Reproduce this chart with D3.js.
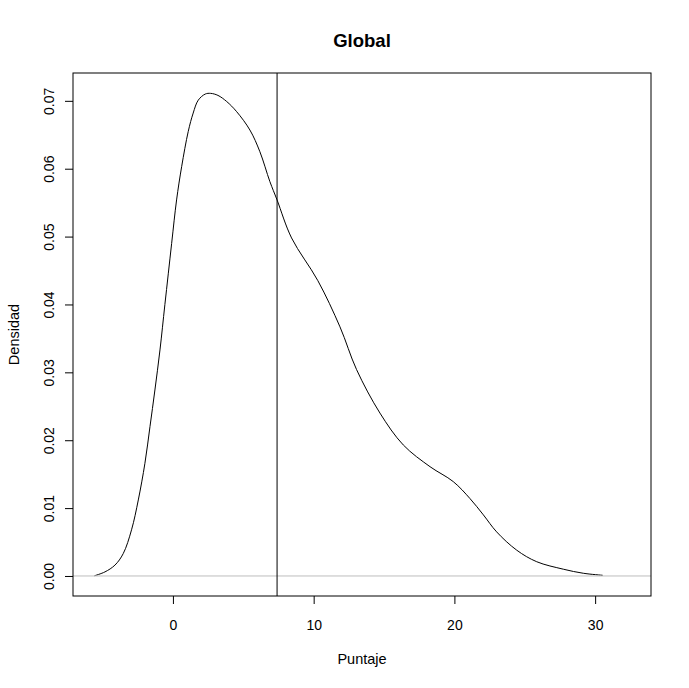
<!DOCTYPE html>
<html>
<head>
<meta charset="utf-8">
<script src="https://cdn.jsdelivr.net/npm/d3@7"></script>
<style>
  body { margin: 0; background: #fff; }
  svg { display: block; }
  text { font-family: "Liberation Sans", Arial, sans-serif; }
</style>
</head>
<body>
<svg id="chart" width="689" height="688"></svg>
<script>
// Density estimate (x = Puntaje, y = Densidad)
const puntaje = [-5.58, -4.83, -4.12, -3.53, -2.94, -2.46, -1.99, -1.63, -1.28, -0.92,
  -0.57, -0.09, 0.26, 0.62, 1.09, 1.44, 1.80, 2.30, 2.68, 3.20,
  3.82, 4.53, 5.47, 6.18, 6.89, 7.40, 8.43, 10.30, 11.87, 13.05,
  14.71, 16.37, 18.27, 19.92, 21.11, 22.06, 23.00, 24.43, 25.85, 27.74,
  29.16, 30.54];
const densidad = [0.00003, 0.0006, 0.0016, 0.0033, 0.0068, 0.0112, 0.0166, 0.0220, 0.0274, 0.0333,
  0.0400, 0.0490, 0.0554, 0.0603, 0.0655, 0.0682, 0.0701, 0.0710, 0.0711, 0.0708,
  0.0699, 0.0684, 0.0657, 0.0625, 0.0581, 0.0554, 0.0498, 0.0435, 0.0367, 0.0304,
  0.0240, 0.0193, 0.0161, 0.0139, 0.0114, 0.0090, 0.0065, 0.0038, 0.0021, 0.0010,
  0.0004, 0.0001];
const mediaPuntaje = 7.4;
const xTicks = [0, 10, 20, 30];
const yTicks = [0, 0.01, 0.02, 0.03, 0.04, 0.05, 0.06, 0.07];
const titulo = "Global";
const xLabel = "Puntaje";
const yLabel = "Densidad";

const svg = d3.select("#chart");
const pL = 73, pR = 651, pT = 73, pB = 596;

const x = d3.scaleLinear().domain([-7.1, 33.97]).range([pL, pR]);
const y = d3.scaleLinear().domain([-0.00295, 0.0741]).range([pB, pT]);

const data = puntaje.map((v, i) => ({ x: v, y: densidad[i] }));

// curve
svg.append("path")
  .datum(data)
  .attr("fill", "none")
  .attr("stroke", "#000")
  .attr("stroke-width", 1)
  .attr("d", d3.line().x(d => x(d.x)).y(d => y(d.y)).curve(d3.curveCatmullRom.alpha(0.5)));

// zero line
svg.append("line")
  .attr("x1", pL).attr("x2", pR)
  .attr("y1", y(0)).attr("y2", y(0))
  .attr("stroke", "#bebebe").attr("stroke-width", 1);

// mean line
svg.append("line")
  .attr("x1", x(mediaPuntaje)).attr("x2", x(mediaPuntaje))
  .attr("y1", pT).attr("y2", pB)
  .attr("stroke", "#000").attr("stroke-width", 1);

// box
svg.append("rect")
  .attr("x", pL).attr("y", pT)
  .attr("width", pR - pL).attr("height", pB - pT)
  .attr("fill", "none").attr("stroke", "#000").attr("stroke-width", 1);

// x axis
const gx = svg.append("g")
  .attr("transform", `translate(0,${pB})`)
  .call(d3.axisBottom(x).tickValues(xTicks).tickSize(8).tickPadding(16).tickFormat(d3.format("d")));
gx.select(".domain").remove();
gx.selectAll("text").attr("font-size", 14).attr("fill", "#000")
  .style("font-family", "'Liberation Sans', Arial, sans-serif");

// y axis
const gy = svg.append("g")
  .attr("transform", `translate(${pL},0)`)
  .call(d3.axisLeft(y).tickValues(yTicks).tickSize(8).tickFormat(d3.format(".2f")));
gy.select(".domain").remove();
gy.selectAll("text")
  .attr("x", null).attr("dy", null)
  .attr("text-anchor", "middle")
  .attr("dominant-baseline", "central")
  .attr("transform", "translate(-24,0) rotate(-90)")
  .attr("font-size", 14).attr("fill", "#000")
  .style("font-family", "'Liberation Sans', Arial, sans-serif");

// title
svg.append("text")
  .attr("x", (pL + pR) / 2).attr("y", 40)
  .attr("text-anchor", "middle").attr("dominant-baseline", "central")
  .attr("font-size", 18.5).attr("font-weight", "bold")
  .text(titulo);

// axis labels
svg.append("text")
  .attr("x", (pL + pR) / 2).attr("y", 659)
  .attr("text-anchor", "middle").attr("dominant-baseline", "central")
  .attr("font-size", 14.5)
  .text(xLabel);

svg.append("text")
  .attr("transform", `translate(14,${(pT + pB) / 2}) rotate(-90)`)
  .attr("text-anchor", "middle").attr("dominant-baseline", "central")
  .attr("font-size", 14.5)
  .text(yLabel);
</script>
</body>
</html>
